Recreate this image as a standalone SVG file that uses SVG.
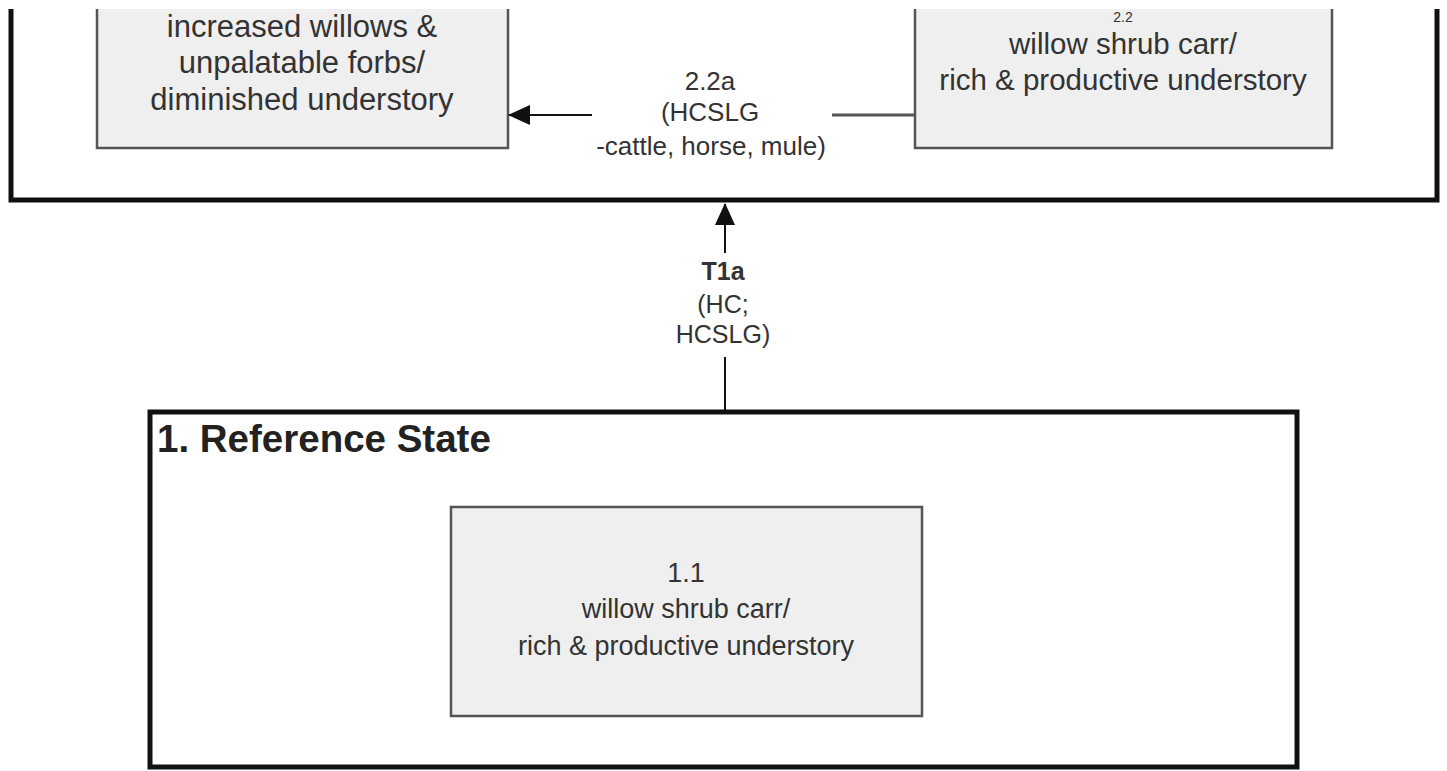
<svg xmlns="http://www.w3.org/2000/svg" width="1447" height="771" viewBox="0 0 1447 771">
<defs>
<clipPath id="topclip"><rect x="0" y="9" width="1447" height="762"/></clipPath>
<marker id="ah" markerWidth="22" markerHeight="20" refX="21" refY="10" orient="auto" markerUnits="userSpaceOnUse">
<path d="M0,0 L22,10 L0,20 Z" fill="#111"/>
</marker>
</defs>
<style>
.state{fill:#fff;stroke:#111;stroke-width:5}
.phase{fill:#efefef;stroke:#555;stroke-width:2.5}
.t{font-family:"Liberation Sans",Arial,sans-serif;fill:#333;text-anchor:middle}
.title{font-family:"Liberation Sans",Arial,sans-serif;font-weight:bold;fill:#222}
.conn{stroke:#111;stroke-width:2;fill:none}
.connG{stroke:#555;stroke-width:3;fill:none}
</style>
<rect x="0" y="0" width="1447" height="771" fill="#fff"/>
<g clip-path="url(#topclip)">
<g id="state2">
<rect class="state" x="11" y="-40" width="1426" height="240"/>
</g>
<g id="phase2_1">
<rect class="phase" x="97" y="-40" width="411" height="188"/>
<text class="t" font-size="31" x="302" y="37">increased willows &amp;</text>
<text class="t" font-size="31" x="302" y="73">unpalatable forbs/</text>
<text class="t" font-size="31" x="302" y="110">diminished understory</text>
</g>
<g id="phase2_2">
<rect class="phase" x="915" y="-40" width="417" height="188"/>
<text class="t" font-size="14" x="1123" y="22">2.2</text>
<text class="t" font-size="29.5" x="1123" y="54">willow shrub carr/</text>
<text class="t" font-size="29.5" x="1123" y="90">rich &amp; productive understory</text>
</g>
</g>
<g id="state1">
<rect class="state" x="150" y="412" width="1147" height="355"/>
<text class="title" font-size="38.5" x="157" y="452">1. Reference State</text>
</g>
<g id="phase1_1">
<rect class="phase" x="451" y="507" width="471" height="209"/>
<text class="t" font-size="27" x="686" y="582">1.1</text>
<text class="t" font-size="27" x="686" y="618">willow shrub carr/</text>
<text class="t" font-size="27" x="686" y="655">rich &amp; productive understory</text>
</g>
<g id="connectors">
<line class="connG" x1="915" y1="115" x2="832" y2="115"/>
<line class="conn" x1="592" y1="115" x2="509" y2="115" marker-end="url(#ah)"/>
<text class="t" font-size="26" x="710" y="90">2.2a</text>
<text class="t" font-size="26" x="710" y="121">(HCSLG</text>
<text class="t" font-size="26" x="711" y="155">-cattle, horse, mule)</text>
<line class="conn" x1="725" y1="410" x2="725" y2="357"/>
<line class="conn" x1="725" y1="253" x2="725" y2="204" marker-end="url(#ah)"/>
<text class="t" font-size="25" font-weight="bold" x="723" y="280">T1a</text>
<text class="t" font-size="25" x="723" y="313">(HC;</text>
<text class="t" font-size="25" x="723" y="343">HCSLG)</text>
</g>
</svg>
